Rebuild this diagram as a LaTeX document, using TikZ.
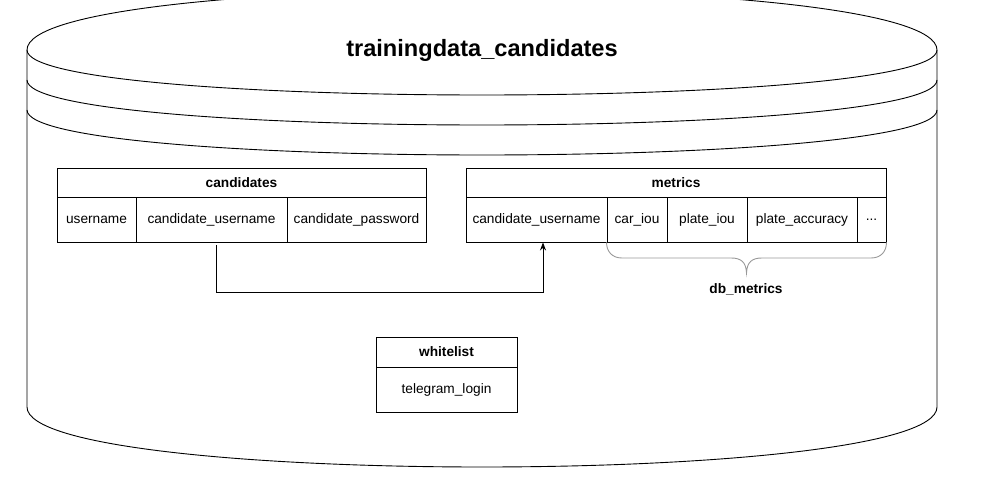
\documentclass[tikz,border=0pt]{standalone}
\usepackage{fontspec}
\setmainfont{Liberation Sans}
\usetikzlibrary{arrows, arrows.meta}
\usetikzlibrary{calc}

\tikzset{
  cell/.style={draw, line width=0.9pt, inner sep=0pt, minimum height=45pt, font=\fontsize{13.7}{16}\selectfont},
  head/.style={cell, minimum height=29pt, font=\fontsize{13.7}{16}\selectfont\bfseries},
  link/.style={line width=0.9pt, -{Stealth[length=8pt, width=6pt]}},
  brace/.style={line width=0.9pt, draw=black!40}
}

\begin{document}
\begin{tikzpicture}[x=1pt, y=-1pt]
      \useasboundingbox (0,0) rectangle (981,489);
      \clip (0,0) rectangle (981,489);

      % database cylinder
      \draw[line width=0.9pt] (27,50) .. controls (27,-30) and (937,-30) .. (937,50) -- (937,407)
        .. controls (937,487) and (27,487) .. (27,407) -- cycle;
      \draw[line width=0.9pt] (27,50) .. controls (27,110) and (937,110) .. (937,50);
      \draw[line width=0.9pt] (27,80) .. controls (27,140) and (937,140) .. (937,80);
      \draw[line width=0.9pt] (27,110) .. controls (27,170) and (937,170) .. (937,110);
      \node[font=\fontsize{23.6}{28}\selectfont\bfseries] (db) at (482,50) {trainingdata\_candidates};

      % candidates
      \node[head, minimum width=369pt] (cand) at (241.5,182.5) {candidates};
      \node[cell, minimum width=79pt] (c-user) at (96.5,219.5) {username};
      \node[cell, minimum width=151pt] (c-cand) at (211.5,219.5) {candidate\_username};
      \node[cell, minimum width=139pt] (c-pass) at (356.5,219.5) {candidate\_password};

      % metrics
      \node[head, minimum width=420pt] (metr) at (676,182.5) {metrics};
      \node[cell, minimum width=141pt] (m-cand) at (536.5,219.5) {candidate\_username};
      \node[cell, minimum width=60pt] (m-car) at (637,219.5) {car\_iou};
      \node[cell, minimum width=80pt] (m-plate) at (707,219.5) {plate\_iou};
      \node[cell, minimum width=110pt] (m-acc) at (802,219.5) {plate\_accuracy};
      \node[cell, minimum width=29pt] (m-more) at (871.5,219.5) {...};

      % whitelist
      \node[head, minimum width=141pt, minimum height=30pt] (white) at (446.5,352) {whitelist};
      \node[cell, minimum width=141pt] (w-login) at (446.5,389.5) {telegram\_login};

      \draw[link, shorten <=3pt] ([xshift=4.5pt]c-cand.south) -- ++(0,50) -| ([xshift=6.5pt]m-cand.south);

      \draw[brace] (m-car.south west) .. controls ++(0,9) and (612,258) .. (622,258) -- (731,258)
        .. controls (741,258) and (746,262) .. (746.5,273)
        .. controls (747,262) and (752,258) .. (762,258) -- (871,258)
        .. controls (881,258) and ($(m-more.south east)+(0,9)$) .. (m-more.south east);
      \node[font=\fontsize{13.7}{16}\selectfont\bfseries] (dbm) at (746,289) {db\_metrics};
    \end{tikzpicture}
\end{document}
